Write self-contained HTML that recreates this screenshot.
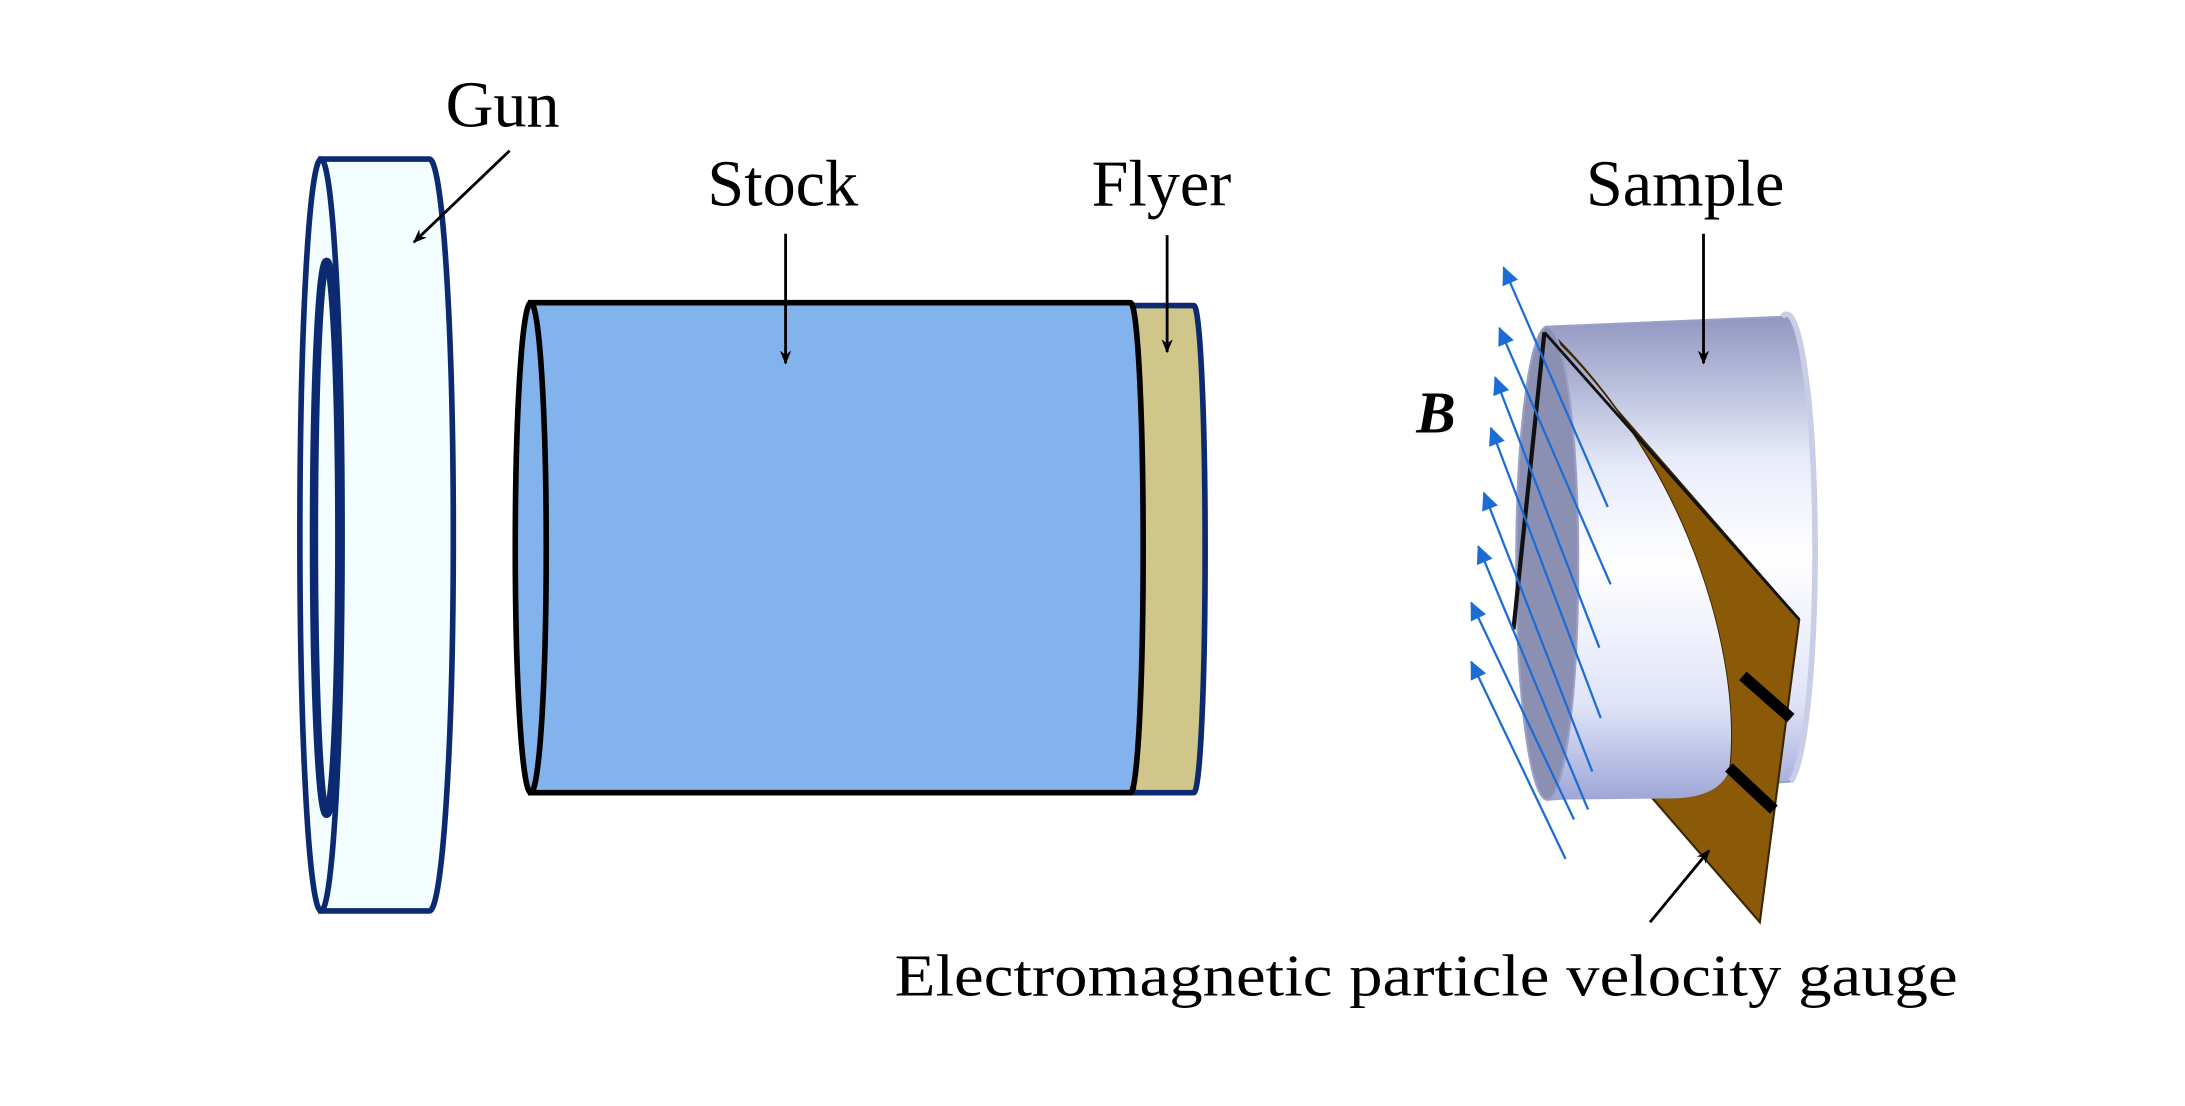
<!DOCTYPE html>
<html><head><meta charset="utf-8"><style>
html,body{margin:0;padding:0;background:#fff;}
svg{display:block;}
text{font-family:"Liberation Serif",serif;fill:#000;}
</style></head><body>
<svg width="2185" height="1106" viewBox="0 0 1552 785.5" preserveAspectRatio="none" xmlns="http://www.w3.org/2000/svg">
<defs>
<marker id="ah" markerWidth="10" markerHeight="10" refX="9" refY="5" orient="auto" markerUnits="userSpaceOnUse">
<path d="M0,1 L10,5 L0,9 L3,5 Z" fill="#000"/></marker>
<marker id="bh" markerWidth="14" markerHeight="12" refX="12" refY="6" orient="auto" markerUnits="userSpaceOnUse">
<path d="M0,0 L13,6 L0,12 Z" fill="#1c6cd6"/></marker>
<linearGradient id="cyl" x1="0" y1="0" x2="0" y2="1">
<stop offset="0" stop-color="#8f95c0"/><stop offset="0.3" stop-color="#e8ecfa"/>
<stop offset="0.5" stop-color="#ffffff"/><stop offset="0.8" stop-color="#dfe3f8"/><stop offset="1" stop-color="#9ea6d6"/></linearGradient>
</defs>

<path d="M228,113 L305,113 A17,267 0 0 1 305,647 L228,647 Z" fill="#f4fdff" stroke="#0b2a72" stroke-width="4"/>
<ellipse cx="228" cy="380" rx="15" ry="267" fill="#f4fdff" stroke="#0b2a72" stroke-width="4"/>
<ellipse cx="232" cy="382" rx="9" ry="196" fill="none" stroke="#0b2a72" stroke-width="6"/>
<text x="357" y="90" font-size="47" text-anchor="middle">Gun</text>
<line x1="362" y1="107" x2="294" y2="172" stroke="#000" stroke-width="2" marker-end="url(#ah)"/>

<path d="M805,217 L848,217 A8,173 0 0 1 848,563 L805,563 Z" fill="#d1c689" stroke="#0b2a72" stroke-width="4"/>
<path d="M377,215 L803,215 A9,174 0 0 1 803,563 L377,563 Z" fill="#83b3ed" stroke="#000" stroke-width="4"/>
<ellipse cx="377" cy="389" rx="11" ry="174" fill="#83b3ed" stroke="#000" stroke-width="4"/>
<text x="556" y="146" font-size="47" text-anchor="middle">Stock</text>
<line x1="558" y1="166" x2="558" y2="258" stroke="#000" stroke-width="2" marker-end="url(#ah)"/>
<text x="825" y="146" font-size="47" text-anchor="middle">Flyer</text>
<line x1="829" y1="167" x2="829" y2="250" stroke="#000" stroke-width="2" marker-end="url(#ah)"/>

<path d="M1099,232 L1266,225 A20,165 0 0 1 1272,555 L1099,568 Z" fill="url(#cyl)" stroke="#9aa0c8" stroke-width="1.5"/>
<path d="M1266,225 A20,165 0 0 1 1272,555" fill="none" stroke="#c9cde6" stroke-width="4"/>
<path d="M1097,232 L1278,440 L1250,655 L1172,565 L1228,548 C1238,470 1200,330 1097,232 Z" fill="#8a5a08" stroke="#3a2600" stroke-width="1.5"/>
<path d="M1099,236 C1200,330 1238,470 1228,548 Q1220,566 1190,567 L1099,568 Z" fill="url(#cyl)"/>
<ellipse cx="1099" cy="400" rx="22" ry="168" fill="#8b90b2" stroke="#9aa0c8" stroke-width="1.5"/>
<line x1="1097" y1="236" x2="1075" y2="447" stroke="#111" stroke-width="3"/>
<line x1="1097" y1="236" x2="1278" y2="440" stroke="#111" stroke-width="2"/>
<line x1="1238" y1="480" x2="1272" y2="510" stroke="#000" stroke-width="8"/>
<line x1="1228" y1="545" x2="1260" y2="575" stroke="#000" stroke-width="8"/>

<g stroke="#1c6cd6" stroke-width="1.6" fill="none">
<line x1="1142" y1="360" x2="1068" y2="190" marker-end="url(#bh)"/>
<line x1="1144" y1="415" x2="1065" y2="233" marker-end="url(#bh)"/>
<line x1="1136" y1="460" x2="1062" y2="268" marker-end="url(#bh)"/>
<line x1="1137" y1="510" x2="1059" y2="304" marker-end="url(#bh)"/>
<line x1="1131" y1="548" x2="1054" y2="350" marker-end="url(#bh)"/>
<line x1="1128" y1="575" x2="1050" y2="388" marker-end="url(#bh)"/>
<line x1="1118" y1="582" x2="1045" y2="428" marker-end="url(#bh)"/>
<line x1="1112" y1="610" x2="1045" y2="470" marker-end="url(#bh)"/>
</g>
<text x="1020" y="307" font-size="42" font-weight="bold" font-style="italic" text-anchor="middle">B</text>

<text x="1207" y="146" font-size="47" text-anchor="middle" transform="translate(-10,0)">Sample</text>
<line x1="1210" y1="166" x2="1210" y2="258" stroke="#000" stroke-width="2" marker-end="url(#ah)"/>

<line x1="1172" y1="655" x2="1214" y2="604" stroke="#000" stroke-width="2" marker-end="url(#ah)"/>
<text x="1013" y="707" font-size="42" text-anchor="middle" textLength="755" lengthAdjust="spacingAndGlyphs">Electromagnetic particle velocity gauge</text>
</svg>
</body></html>
